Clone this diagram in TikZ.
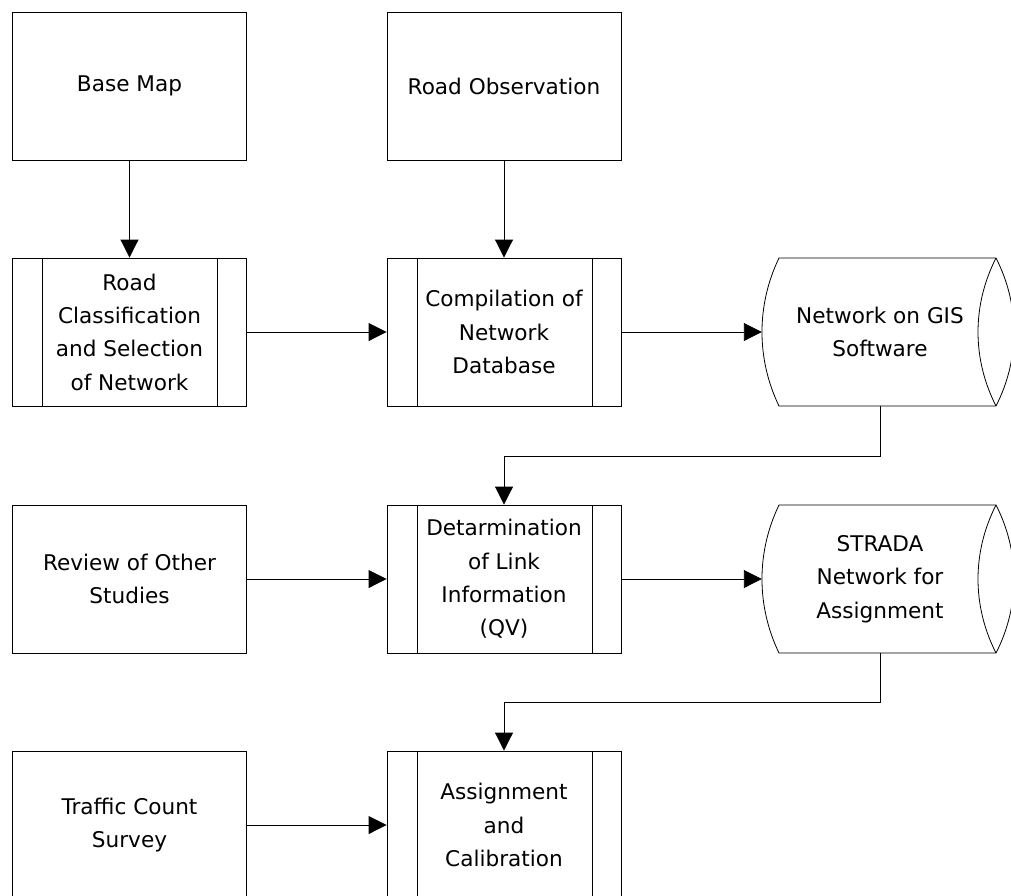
\documentclass[tikz,border=0pt]{standalone}
\usepackage{fontspec}
\setmainfont{DejaVu Sans}
\usetikzlibrary{arrows.meta}
\newcommand\drawcylinder[2]{%
  \draw[cylline] (#1-101,#2-74) -- (#1+116,#2-74)
    .. controls (#1+140,#2-27) and (#1+140,#2+27) .. (#1+116,#2+74)
    -- (#1-101,#2+74)
    .. controls (#1-123.7,#2+27) and (#1-123.7,#2-27) .. cycle;
  \draw[cylline] (#1+116,#2-74) .. controls (#1+92,#2-27) and (#1+92,#2+27) .. (#1+116,#2+74);
}
\begin{document}
\begin{tikzpicture}[x=1pt,y=-1pt,
  lbl/.style={align=center, font=\fontsize{21.6}{33.3}\selectfont, inner sep=0pt},
  box/.style={lbl, draw, line width=0.9pt, minimum width=234pt, minimum height=148pt},
  proc/.style={box, path picture={
     \draw[line width=0.9pt] ([xshift=30pt]path picture bounding box.north west) -- ([xshift=30pt]path picture bounding box.south west);
     \draw[line width=0.9pt] ([xshift=-29pt]path picture bounding box.north east) -- ([xshift=-29pt]path picture bounding box.south east);}},
  cyltext/.style={lbl, minimum width=236pt, minimum height=148pt},
  cylline/.style={line width=0.8pt},
  arr/.style={line width=0.9pt, -{Triangle[length=18pt,width=18pt]}}]
\useasboundingbox (0,0) rectangle (1011,895);
\clip (0,0) rectangle (1011,895);
% row 1
\node[box] (base) at (129.5,86) {Base Map};
\node[box] (obs) at (504,86) {Road Observation};
% row 2
\node[proc] (cls) at (129.5,332) {Road\\Classification\\and Selection\\of Network};
\node[proc] (comp) at (504,332) {Compilation of\\Network\\Database};
\drawcylinder{880}{332}
\node[cyltext] (gis) at (880,332) {Network on GIS\\Software};
% row 3
\node[box] (rev) at (129.5,579) {Review of Other\\Studies};
\node[proc] (det) at (504,579) {Detarmination\\of Link\\Information\\(QV)};
\drawcylinder{880}{579}
\node[cyltext] (strada) at (880,579) {STRADA\\Network for\\Assignment};
% row 4
\node[box] (tcs) at (129.5,825) {Traffic Count\\Survey};
\node[proc] (asg) at (504,825) {Assignment\\and\\Calibration};
% connectors
\draw[arr] (base.south) -- (cls.north);
\draw[arr] (obs.south) -- (comp.north);
\draw[arr] (cls.east) -- (comp.west);
\draw[arr] (comp.east) -- (gis.west);
\draw[arr] (gis.south) -- ++(0,50) -| (det.north);
\draw[arr] (rev.east) -- (det.west);
\draw[arr] (det.east) -- (strada.west);
\draw[arr] (strada.south) -- ++(0,49) -| (asg.north);
\draw[arr] (tcs.east) -- (asg.west);
\end{tikzpicture}
\end{document}
